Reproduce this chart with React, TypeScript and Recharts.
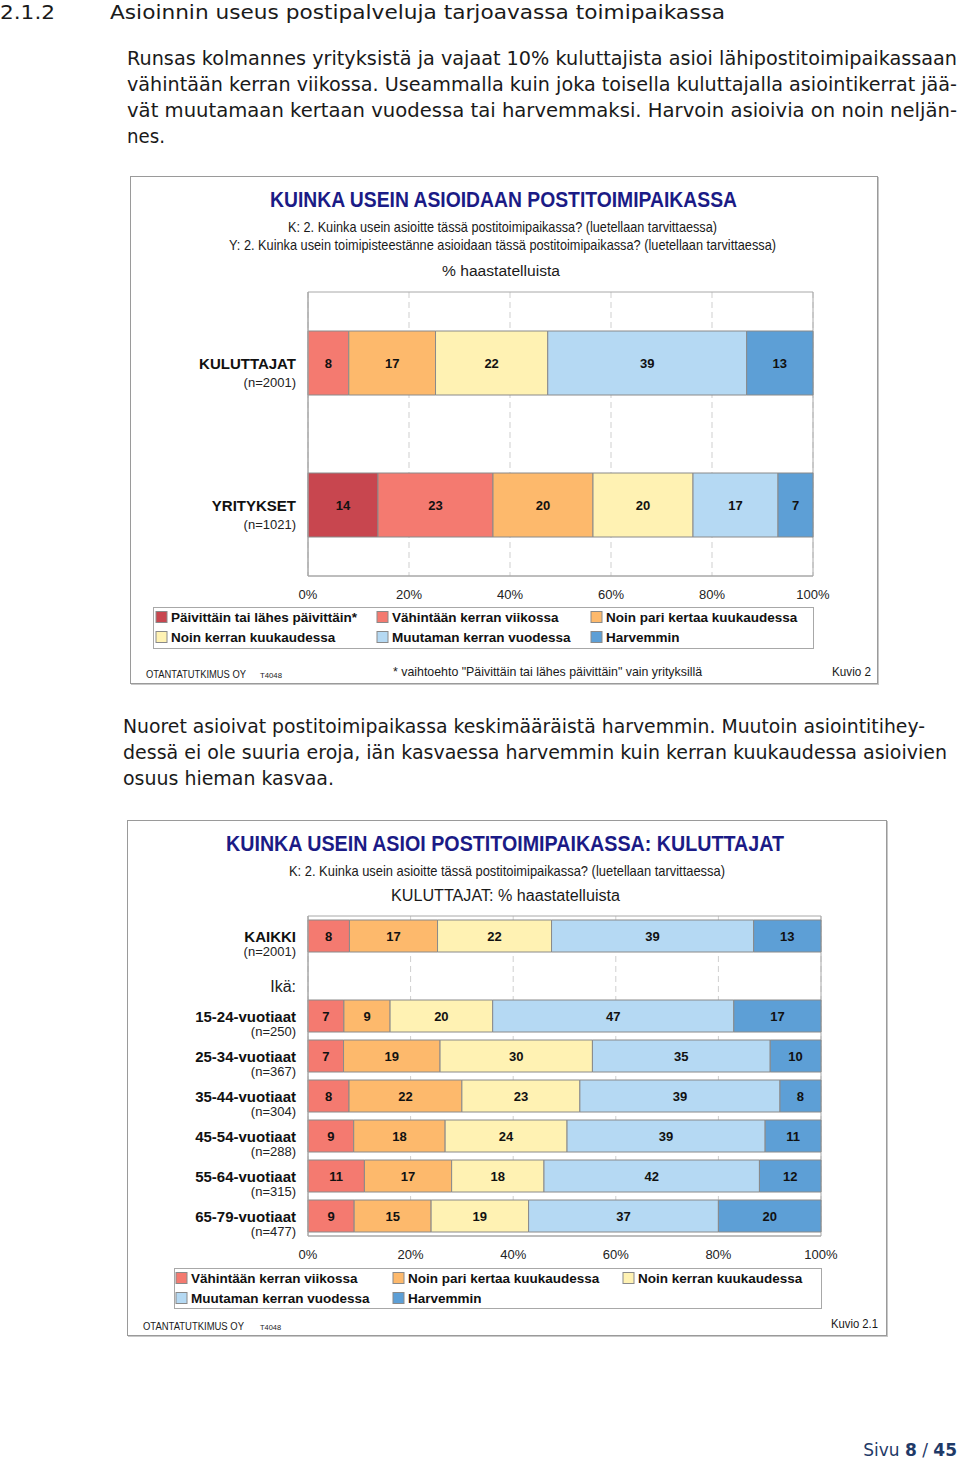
import React from 'react';
import { BarChart, Bar, XAxis, YAxis, CartesianGrid, ReferenceArea, LabelList } from 'recharts';

// series (answer categories)
const seriesKeys = ['paiv', 'vah', 'pari', 'kerran', 'muut', 'harv'];
const seriesNames = [
  'Päivittäin tai lähes päivittäin*',
  'Vähintään kerran viikossa',
  'Noin pari kertaa kuukaudessa',
  'Noin kerran kuukaudessa',
  'Muutaman kerran vuodessa',
  'Harvemmin',
];
const seriesColors = ['#c8464f', '#f47a70', '#fdb96c', '#fff2b3', '#b5d9f3', '#5d9fd6'];

// chart 1: kuluttajat vs yritykset
const groups1 = ['KULUTTAJAT', 'YRITYKSET'];
const groupN1 = ['(n=2001)', '(n=1021)'];
const paiv1 = [null, 14];
const vah1 = [8, 23];
const pari1 = [17, 20];
const kerran1 = [22, 20];
const muut1 = [39, 17];
const harv1 = [13, 7];

// chart 2: kuluttajat by age
const groups2 = ['KAIKKI', 'Ikä:', '15-24-vuotiaat', '25-34-vuotiaat', '35-44-vuotiaat', '45-54-vuotiaat', '55-64-vuotiaat', '65-79-vuotiaat'];
const groupN2 = ['(n=2001)', '', '(n=250)', '(n=367)', '(n=304)', '(n=288)', '(n=315)', '(n=477)'];
const vah2 = [8, null, 7, 7, 8, 9, 11, 9];
const pari2 = [17, null, 9, 19, 22, 18, 17, 15];
const kerran2 = [22, null, 20, 30, 23, 24, 18, 19];
const muut2 = [39, null, 47, 35, 39, 39, 42, 37];
const harv2 = [13, null, 17, 10, 8, 11, 12, 20];

const pctTicks = [0, 20, 40, 60, 80, 100];

const data1 = groups1.map((name, i) => ({
  name, paiv: paiv1[i], vah: vah1[i], pari: pari1[i], kerran: kerran1[i], muut: muut1[i], harv: harv1[i],
}));
const data2 = groups2.map((name, i) => ({
  name, vah: vah2[i], pari: pari2[i], kerran: kerran2[i], muut: muut2[i], harv: harv2[i],
}));

const NARROW = "'Liberation Sans Narrow', 'Arial Narrow', 'Liberation Sans', Arial, sans-serif";
const PAGE = "'DejaVu Sans', Verdana, sans-serif";
const NAVY = '#1b1b86';
const GRID = '#a8a8a8';

// text with fixed start and width (y = vertical centre)
const T = ({ x, y, w, size, bold, fill = '#1a1a1a', family = NARROW, children }: any) => (
  <text
    x={x}
    y={y}
    dominantBaseline="central"
    fontSize={size}
    fontWeight={bold ? 'bold' : 'normal'}
    fill={fill}
    fontFamily={family}
    textLength={w}
    lengthAdjust="spacingAndGlyphs"
  >
    {children}
  </text>
);

const renderValue = (props: any) => {
  const vb = props.viewBox || props;
  const { value } = props;
  if (value == null || value === 0) return null;
  return (
    <text
      x={vb.x + vb.width / 2}
      y={vb.y + vb.height / 2}
      textAnchor="middle"
      dominantBaseline="central"
      fontSize={13}
      fontWeight="bold"
      fill="#111"
      fontFamily={NARROW}
    >
      {value}
    </text>
  );
};

const PctTick = ({ x, y, payload }: any) => (
  <text x={x} y={y + 18} textAnchor="middle" dominantBaseline="central" fontSize={13} fill="#222" fontFamily={NARROW}>
    {Math.round(payload.value * 100)}%
  </text>
);

const makeCatTick = (names: string[], ns: string[], nDy: number) => ({ x, y, payload }: any) => {
  const i = names.indexOf(payload.value);
  if (payload.value === 'Ikä:') {
    return (
      <text x={x - 12} y={y + 10} textAnchor="end" dominantBaseline="central" fontSize={16} fill="#222" fontFamily={NARROW}>
        Ikä:
      </text>
    );
  }
  return (
    <g>
      <text x={x - 12} y={y} textAnchor="end" dominantBaseline="central" fontSize={15} fontWeight="bold" fill="#111" fontFamily={NARROW}>
        {payload.value}
      </text>
      <text x={x - 12} y={y + nDy} textAnchor="end" dominantBaseline="central" fontSize={13} fill="#222" fontFamily={NARROW}>
        {ns[i]}
      </text>
    </g>
  );
};

const Tick1 = makeCatTick(groups1, groupN1, 19);
const Tick2 = makeCatTick(groups2, groupN2, 15);

const StackChart = ({ data, keys, width, height, margin, barSize, tick }: any) => (
  <BarChart
    width={width}
    height={height}
    data={data}
    layout="vertical"
    stackOffset="expand"
    margin={margin}
  >
    <CartesianGrid horizontal={false} stroke="#cfcfcf" strokeDasharray="6 4" />
    <XAxis
      type="number"
      domain={[0, 1]}
      ticks={pctTicks.map((t) => t / 100)}
      height={24}
      tickLine={false}
      tickSize={0}
      tickMargin={0}
      stroke={GRID}
      tick={<PctTick />}
    />
    <YAxis
      type="category"
      dataKey="name"
      width={168}
      tickLine={false}
      tickSize={0}
      tickMargin={0}
      stroke={GRID}
      tick={tick}
      interval={0}
    />
    <ReferenceArea x1={0} x2={1} fill="none" stroke={GRID} strokeWidth={1} />
    {keys.map((k: string) => {
      const idx = seriesKeys.indexOf(k);
      return (
        <Bar
          key={k}
          dataKey={k}
          stackId="a"
          fill={seriesColors[idx]}
          stroke="#8a8a8a"
          strokeWidth={1}
          barSize={barSize}
          isAnimationActive={false}
        >
          <LabelList dataKey={k} content={renderValue} />
        </Bar>
      );
    })}
  </BarChart>
);

const LegendBox = ({ x, y, w, h, items, cols, rowY }: any) => (
  <g>
    <rect x={x} y={y} width={w} height={h} fill="#fff" stroke={GRID} />
    {items.map((k: string, i: number) => {
      const idx = seriesKeys.indexOf(k);
      const col = cols[i % cols.length];
      const ry = rowY[Math.floor(i / cols.length)];
      return (
        <g key={k}>
          <rect x={col} y={ry - 5.5} width={11} height={11} fill={seriesColors[idx]} stroke="#8a8a8a" />
          <text x={col + 15} y={ry} dominantBaseline="central" fontSize={13.5} fontWeight="bold" fill="#111" fontFamily={NARROW}>
            {seriesNames[idx]}
          </text>
        </g>
      );
    })}
  </g>
);

export default function App() {
  return (
    <div style={{ position: 'absolute', left: 0, top: 0, width: 960, height: 1462, background: '#fff', overflow: 'hidden' }}>
      <svg width={960} height={1462} style={{ position: 'absolute', left: 0, top: 0 }}>
        {/* page text */}
        <T x={0} y={12} w={55} size={20} family={PAGE}>2.1.2</T>
        <T x={110} y={12} w={615} size={20} family={PAGE}>Asioinnin useus postipalveluja tarjoavassa toimipaikassa</T>
        <T x={127} y={58} w={830} size={19} family={PAGE}>Runsas kolmannes yrityksistä ja vajaat 10% kuluttajista asioi lähipostitoimipaikassaan</T>
        <T x={127} y={84} w={830} size={19} family={PAGE}>vähintään kerran viikossa. Useammalla kuin joka toisella kuluttajalla asiointikerrat jää-</T>
        <T x={127} y={110} w={830} size={19} family={PAGE}>vät muutamaan kertaan vuodessa tai harvemmaksi. Harvoin asioivia on noin neljän-</T>
        <T x={127} y={136} w={38} size={19} family={PAGE}>nes.</T>

        {/* chart 1 frame */}
        <rect x={130.5} y={176.5} width={747} height={507} fill="#fff" stroke="#9a9a9a" />
        <line x1={131} y1={684.5} x2={879} y2={684.5} stroke="#c8c8c8" />
        <line x1={878.5} y1={177} x2={878.5} y2={685} stroke="#c8c8c8" />
        <T x={270} y={199} w={467} size={22} bold fill={NAVY}>KUINKA USEIN ASIOIDAAN POSTITOIMIPAIKASSA</T>
        <T x={288} y={227} w={429} size={14.5}>K: 2. Kuinka usein asioitte tässä postitoimipaikassa? (luetellaan tarvittaessa)</T>
        <T x={229} y={245} w={547} size={14.5}>Y: 2. Kuinka usein toimipisteestänne asioidaan tässä postitoimipaikassa? (luetellaan tarvittaessa)</T>
        <T x={442} y={270} w={118} size={15.5}>% haastatelluista</T>
        <LegendBox x={153.5} y={607.5} w={660} h={41} items={seriesKeys} cols={[156, 377, 591]} rowY={[617, 637]} />
        <T x={146} y={674} w={100} size={10}>OTANTATUTKIMUS  OY</T>
        <T x={260} y={675} w={22} size={8}>T4048</T>
        <T x={393} y={671} w={309} size={13}>* vaihtoehto "Päivittäin tai lähes päivittäin" vain yrityksillä</T>
        <T x={832} y={672} w={39} size={12}>Kuvio 2</T>

        <T x={123} y={726} w={802} size={19} family={PAGE}>Nuoret asioivat postitoimipaikassa keskimääräistä harvemmin. Muutoin asiointitihey-</T>
        <T x={123} y={752} w={824} size={19} family={PAGE}>dessä ei ole suuria eroja, iän kasvaessa harvemmin kuin kerran kuukaudessa asioivien</T>
        <T x={123} y={778} w={211} size={19} family={PAGE}>osuus hieman kasvaa.</T>

        {/* chart 2 frame */}
        <rect x={127.5} y={820.5} width={759} height={515} fill="#fff" stroke="#9a9a9a" />
        <line x1={128} y1={1336.5} x2={888} y2={1336.5} stroke="#c8c8c8" />
        <line x1={887.5} y1={821} x2={887.5} y2={1337} stroke="#c8c8c8" />
        <T x={226} y={843} w={558} size={22} bold fill={NAVY}>KUINKA USEIN ASIOI POSTITOIMIPAIKASSA: KULUTTAJAT</T>
        <T x={289} y={871} w={436} size={14.5}>K: 2. Kuinka usein asioitte tässä postitoimipaikassa? (luetellaan tarvittaessa)</T>
        <T x={391} y={895} w={229} size={16}>KULUTTAJAT: % haastatelluista</T>
        <LegendBox x={174.5} y={1268.5} w={647} h={40} items={seriesKeys.slice(1)} cols={[176, 393, 623]} rowY={[1278, 1298]} />
        <T x={143} y={1326} w={101} size={10}>OTANTATUTKIMUS  OY</T>
        <T x={260} y={1327} w={21} size={8}>T4048</T>
        <T x={831} y={1324} w={47} size={12}>Kuvio 2.1</T>

        <text x={957} y={1450} textAnchor="end" dominantBaseline="central" fontSize={17} fill="#1f3a68" fontFamily={PAGE}>
          Sivu <tspan fontWeight="bold">8</tspan> / <tspan fontWeight="bold">45</tspan>
        </text>
      </svg>

      <div style={{ position: 'absolute', left: 140, top: 290 }}>
        <StackChart
          data={data1}
          keys={seriesKeys}
          width={700}
          height={310}
          margin={{ top: 2, right: 27, bottom: 0, left: 0 }}
          barSize={64}
          tick={<Tick1 />}
        />
      </div>

      <div style={{ position: 'absolute', left: 140, top: 914 }}>
        <StackChart
          data={data2}
          keys={seriesKeys.slice(1)}
          width={700}
          height={346}
          margin={{ top: 2, right: 19, bottom: 0, left: 0 }}
          barSize={32}
          tick={<Tick2 />}
        />
      </div>
    </div>
  );
}
